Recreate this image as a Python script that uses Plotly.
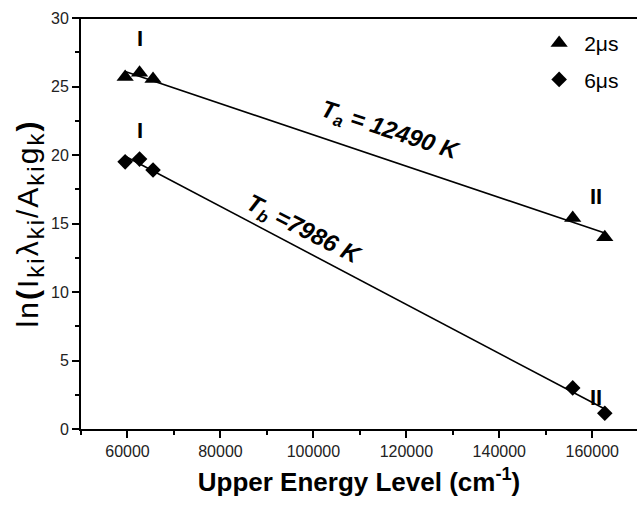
import numpy as np
import plotly.graph_objects as go

# Data
energy = [59500, 62600, 65500, 155800, 162700]
ln_2us = [25.7, 26.0, 25.55, 15.4, 14.0]
ln_6us = [19.5, 19.7, 18.9, 3.0, 1.15]
series_names = ["2\u03bcs", "6\u03bcs"]
temp_a = "T<sub>a</sub> = 12490 K"
temp_b = "T<sub>b</sub> =7986 K"

FONT = "Arial, Liberation Sans, sans-serif"

fig = go.Figure()

# linear fits (Boltzmann plot)
xfit = np.array([min(energy), max(energy)])
for ys in (ln_2us, ln_6us):
    p = np.polyfit(energy, ys, 1)
    fig.add_trace(go.Scatter(x=xfit, y=np.polyval(p, xfit), mode="lines",
                             line=dict(color="black", width=1.6),
                             showlegend=False, hoverinfo="skip"))

fig.add_trace(go.Scatter(x=energy, y=ln_2us, mode="markers", name=series_names[0],
                         legendgroup="a",
                         marker=dict(symbol="triangle-up", size=15, color="black")))
fig.add_trace(go.Scatter(x=energy, y=ln_6us, mode="markers", name=series_names[1],
                         legendgroup="b",
                         marker=dict(symbol="diamond", size=12, color="black")))

ann = []
for x, y, t in [(62600, 28.5, "I"), (62600, 21.8, "I"), (160900, 17.0, "II"), (160900, 2.3, "II")]:
    ann.append(dict(x=x, y=y, text="<b>%s</b>" % t, showarrow=False,
                    font=dict(family=FONT, size=22, color="black")))
ann.append(dict(x=116450, y=21.7, text="<b><i>%s</i></b>" % temp_a, showarrow=False,
                textangle=18, font=dict(family=FONT, size=24, color="black")))
ann.append(dict(x=97800, y=14.5, text="<b><i>%s</i></b>" % temp_b, showarrow=False,
                textangle=27, font=dict(family=FONT, size=24, color="black")))

sub = lambda s: "<sub><span style='font-size:24px'>%s</span></sub>" % s
ytitle = ("<span style='letter-spacing:2px'>ln<b>(</b>I" + sub("ki") + "\u03bb" + sub("ki")
          + "/A" + sub("ki") + "g" + sub("k") + "<b>)</b></span>")

fig.update_layout(
    width=637, height=505,
    margin=dict(l=81, r=0, t=18, b=76),
    paper_bgcolor="white", plot_bgcolor="white",
    font=dict(family=FONT, color="black"),
    annotations=ann,
    legend=dict(x=0.815, y=0.988, xanchor="left", yanchor="top",
                bgcolor="rgba(0,0,0,0)", font=dict(size=21, family=FONT),
                tracegroupgap=6, itemwidth=40),
    xaxis=dict(range=[50000, 169630], showgrid=False, zeroline=False, automargin=False,
               showline=True, linecolor="black", linewidth=2, mirror=False,
               ticks="outside", ticklen=7, tickwidth=2, tickcolor="black",
               tick0=60000, dtick=20000, tickformat="d",
               minor=dict(ticks="outside", ticklen=4, tickwidth=1.5, tickcolor="black", dtick=10000),
               tickfont=dict(size=16, color="#222"),
               title=dict(text="<b>Upper Energy Level (cm<sup>-1</sup>)</b>",
                          font=dict(size=26), standoff=14)),
    yaxis=dict(range=[0, 30], showgrid=False, zeroline=False, automargin=False,
               showline=True, linecolor="black", linewidth=2,
               ticks="outside", ticklen=7, tickwidth=2, tickcolor="black",
               dtick=5,
               minor=dict(ticks="outside", ticklen=4, tickwidth=1.5, tickcolor="black", dtick=2.5),
               tickfont=dict(size=16, color="#222"),
               title=dict(text=ytitle, font=dict(size=30), standoff=4)),
)
# top frame line
fig.add_shape(type="line", xref="paper", yref="paper", x0=-0.013, x1=1, y0=1, y1=1,
              line=dict(color="black", width=2))

fig.write_html("out.html", config={"displayModeBar": False},
               post_script="document.body.style.margin='0px';")
